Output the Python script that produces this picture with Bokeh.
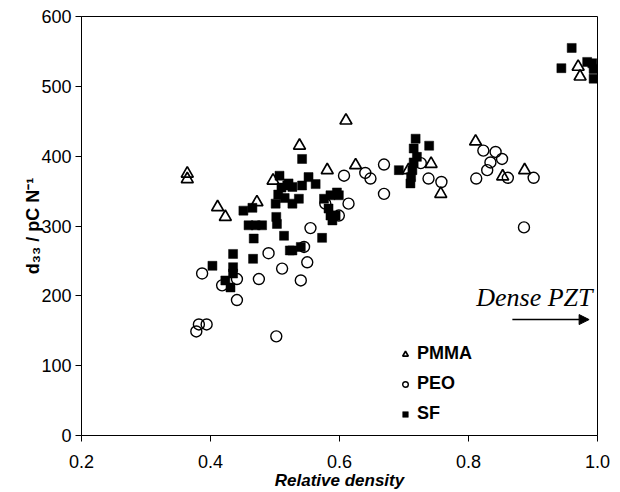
from bokeh.plotting import figure
from bokeh.models import (Range1d, FixedTicker, Label, Legend, LegendItem, Arrow,
                          NormalHead, NumeralTickFormatter)
from bokeh.embed import file_html
from bokeh.resources import INLINE

# PMMA (open triangles)
pmma_x = [0.364, 0.364, 0.411, 0.423, 0.472, 0.497, 0.538, 0.581, 0.610, 0.625,
          0.707, 0.742, 0.757, 0.811, 0.853, 0.887, 0.970, 0.973]
pmma_y = [375, 367, 327, 313, 334, 365, 415, 380, 451, 387,
          380, 389, 346, 421, 371, 380, 528, 514]

# PEO (open circles)
peo_x = [0.378, 0.382, 0.394, 0.387, 0.418, 0.441, 0.441, 0.475, 0.490, 0.511,
         0.502, 0.540, 0.550, 0.545, 0.555, 0.578, 0.599, 0.614, 0.607, 0.640,
         0.648, 0.669, 0.669, 0.726, 0.738, 0.758, 0.812, 0.823, 0.842, 0.852,
         0.834, 0.829, 0.861, 0.901, 0.886]
peo_y = [149, 159, 159, 232, 215, 224, 194, 224, 261, 239,
         142, 222, 248, 270, 297, 332, 315, 332, 372, 376,
         368, 388, 346, 390, 368, 363, 368, 408, 406, 396,
         391, 380, 369, 369, 298]

# SF (filled squares)
sf_x = [0.403, 0.423, 0.431, 0.435, 0.435, 0.435, 0.451, 0.465, 0.459, 0.470,
        0.480, 0.467, 0.466, 0.502, 0.503, 0.514, 0.523, 0.507, 0.501, 0.505,
        0.510, 0.515, 0.521, 0.519, 0.527, 0.542, 0.552, 0.563, 0.542, 0.537,
        0.527, 0.576, 0.586, 0.596, 0.599, 0.583, 0.586, 0.589, 0.594, 0.573,
        0.527, 0.540, 0.692, 0.713, 0.711, 0.710, 0.715, 0.720, 0.715, 0.718,
        0.739, 0.944, 0.960, 0.984, 0.992, 0.994, 0.994]
sf_y = [243, 222, 212, 232, 241, 260, 322, 326, 301, 301,
        301, 282, 253, 313, 303, 286, 265, 372, 332, 345,
        355, 340, 361, 358, 356, 358, 370, 360, 396, 339,
        332, 339, 344, 348, 344, 325, 315, 308, 315, 283,
        265, 270, 380, 380, 370, 361, 391, 399, 411, 425,
        415, 526, 555, 535, 533, 525, 511]

x_ticks = [0.2, 0.4, 0.6, 0.8, 1.0]
y_ticks = [0, 100, 200, 300, 400, 500, 600]

FONT = "Liberation Sans"

p = figure(width=620, height=492, output_backend="svg", toolbar_location=None,
           x_range=Range1d(0.2, 1.0), y_range=Range1d(0, 600),
           min_border_left=81, min_border_right=23, min_border_top=16,
           min_border_bottom=57)
p.background_fill_color = "white"
p.border_fill_color = "white"
p.outline_line_color = "black"
p.outline_line_width = 1
p.xgrid.visible = False
p.ygrid.visible = False

for ax in (p.xaxis, p.yaxis):
    ax.axis_line_color = "black"
    ax.major_tick_line_color = "black"
    ax.minor_tick_line_color = None
    ax.major_tick_in = 0
    ax.major_tick_out = 6
    ax.major_label_text_font = FONT
    ax.major_label_text_font_size = "18px"
    ax.major_label_text_color = "black"

p.xaxis.ticker = FixedTicker(ticks=x_ticks)
p.xaxis.formatter = NumeralTickFormatter(format="0.0")
p.xaxis.major_label_standoff = 13
p.xaxis.axis_label = "Relative density"
p.xaxis.axis_label_text_font = FONT
p.xaxis.axis_label_text_font_style = "bold italic"
p.xaxis.axis_label_text_font_size = "17px"
p.xaxis.axis_label_text_color = "black"
p.xaxis.axis_label_standoff = 0

p.yaxis.ticker = FixedTicker(ticks=y_ticks)
p.yaxis.formatter = NumeralTickFormatter(format="0")
p.yaxis.major_label_standoff = 4
p.yaxis.axis_label = "d\u2083\u2083 / pC N\u207b\u00b9"
p.yaxis.axis_label_text_font = FONT
p.yaxis.axis_label_text_font_style = "bold"
p.yaxis.axis_label_text_font_size = "18px"
p.yaxis.axis_label_text_color = "black"
p.yaxis.axis_label_standoff = -5

r_pmma = p.scatter(pmma_x, pmma_y, marker="triangle", size=12, fill_color=None,
                   line_color="black", line_width=1.7)
r_peo = p.scatter(peo_x, peo_y, marker="circle", size=11, fill_color=None,
                  line_color="black", line_width=1.4)
r_sf = p.scatter(sf_x, sf_y, marker="square", size=9, fill_color="black",
                 line_color="black", line_width=0.5)

legend = Legend(items=[LegendItem(label="PMMA", renderers=[r_pmma]),
                       LegendItem(label="PEO", renderers=[r_peo]),
                       LegendItem(label="SF", renderers=[r_sf])],
                location=(317, 11), orientation="vertical",
                glyph_width=14, glyph_height=20, label_height=20,
                label_standoff=5, spacing=9, padding=0, margin=0,
                border_line_color=None, background_fill_alpha=0,
                label_text_font=FONT, label_text_font_style="bold",
                label_text_font_size="18px", label_text_color="black")
p.add_layout(legend, "center")

# Annotation "Dense PZT" and arrow
p.add_layout(Label(x=511, y=138, x_units="screen", y_units="screen",
                   text="Dense PZT", text_align="right", text_baseline="alphabetic",
                   text_font="Liberation Serif", text_font_style="italic",
                   text_font_size="26px", text_color="black"))
p.add_layout(Arrow(x_start=0.868, y_start=166, x_end=0.987, y_end=166,
                   line_color="black", line_width=1.5,
                   end=NormalHead(size=10, fill_color="black", line_color="black")))

open("out.html", "w").write(file_html(p, INLINE))
